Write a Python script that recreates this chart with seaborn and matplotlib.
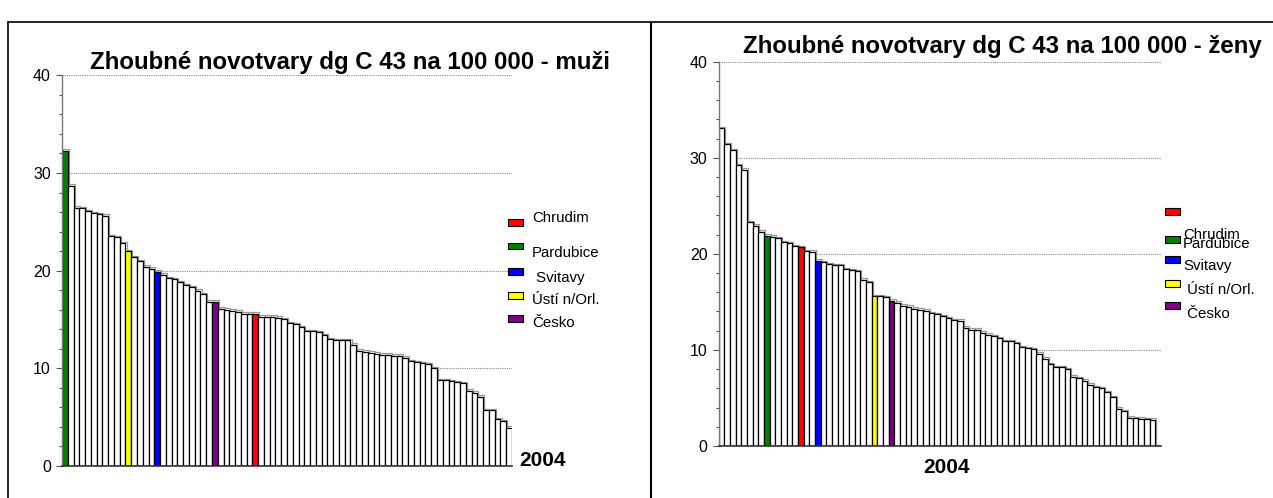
import numpy as np
import pandas as pd
import matplotlib
matplotlib.use("Agg")
import matplotlib.pyplot as plt
from matplotlib.patches import Rectangle
from matplotlib.lines import Line2D
import seaborn as sns

# okresy serazene podle hodnoty, 2004 (na 100 000)
muzi = [32.3, 28.7, 26.45, 26.4, 26.1, 25.9, 25.8, 25.6, 23.5, 23.4,
        22.8, 22.0, 21.4, 20.95, 20.4, 20.2, 19.9, 19.6, 19.2, 19.1,
        18.8, 18.5, 18.3, 17.95, 17.6, 16.8, 16.8, 16.1, 16.0, 15.9,
        15.8, 15.6, 15.6, 15.6, 15.3, 15.3, 15.3, 15.2, 15.0, 14.6,
        14.5, 14.2, 13.8, 13.8, 13.7, 13.4, 13.0, 12.9, 12.9, 12.9,
        12.4, 11.8, 11.7, 11.6, 11.5, 11.4, 11.4, 11.3, 11.3, 11.1,
        10.7, 10.65, 10.5, 10.4, 10.0, 8.8, 8.8, 8.7, 8.6, 8.5,
        7.7, 7.5, 7.1, 5.7, 5.7, 4.8, 4.6, 3.9]
zeny = [33.05, 31.4, 30.8, 29.2, 28.75, 23.3, 22.95, 22.3, 21.9, 21.8,
        21.6, 21.2, 21.1, 20.8, 20.7, 20.3, 20.2, 19.3, 19.1, 18.9,
        18.8, 18.8, 18.4, 18.3, 18.2, 17.3, 17.05, 15.6, 15.6, 15.5,
        15.1, 14.9, 14.6, 14.5, 14.3, 14.2, 14.1, 13.8, 13.7, 13.5,
        13.3, 13.1, 13.05, 12.3, 12.1, 12.1, 11.8, 11.6, 11.4, 11.2,
        10.9, 10.9, 10.7, 10.3, 10.2, 10.1, 9.6, 9.1, 8.5, 8.2,
        8.2, 8.0, 7.2, 7.05, 6.8, 6.4, 6.1, 6.0, 5.6, 5.1,
        3.9, 3.6, 2.95, 2.9, 2.85, 2.8, 2.75, 0.0]

# zvyraznene okresy: poradi sloupce v grafu
okresy = ["Chrudim", "Pardubice", "Svitavy", "Ústí n/Orl.", "Česko"]
barvy = ["#ff0000", "#008000", "#0000ff", "#ffff00", "#800080"]
poradi_muzi = [33, 0, 16, 11, 26]
poradi_zeny = [14, 8, 17, 27, 30]

titul_muzi = "Zhoubné novotvary dg C 43 na 100 000 - muži"
titul_zeny = "Zhoubné novotvary dg C 43 na 100 000 - ženy"
rok = "2004"

W, H = 1273, 498

sns.set_style("white")
plt.rcParams["font.family"] = ["Liberation Sans", "DejaVu Sans"]

fig = plt.figure(figsize=(W / 100, H / 100), dpi=100)


def fx(px):
    return px / W


def fy(py):
    return 1 - py / H


def kresli(ax, hodnoty, poradi):
    n = len(hodnoty)
    df = pd.DataFrame({"okres": [f"o{i}" for i in range(n)], "hodnota": hodnoty})
    pal = {k: "white" for k in df["okres"]}
    for p, b in zip(poradi, barvy):
        pal[f"o{p}"] = b
    # sedy stin za sloupci
    ax.bar(np.arange(n) + 0.18, np.array(hodnoty) + 0.15, width=1.0,
           color="none", edgecolor="#9a9a9a", linewidth=0.9, zorder=1.5)
    sns.barplot(data=df, x="okres", y="hodnota", hue="okres", palette=pal,
                legend=False, width=1.0, errorbar=None, edgecolor="black",
                linewidth=0.9, ax=ax, zorder=2, saturation=1)
    ax.set_xlim(-0.5, n - 0.5)
    ax.set_ylim(0, 40)
    ax.set_yticks([0, 10, 20, 30, 40])
    ax.set_yticks(np.arange(0, 41, 2), minor=True)
    ax.tick_params(axis="y", which="major", length=4, width=0.8, color="#555555",
                   labelsize=11.5, labelcolor="black", pad=4, left=True)
    ax.tick_params(axis="y", which="minor", length=2.5, width=0.8, color="#555555", left=True)
    ax.set_xticks([])
    ax.set_xlabel("")
    ax.set_ylabel("")
    for v in [10, 20, 30, 40]:
        ax.axhline(v, color="#888888", linestyle=(0, (1, 1)), linewidth=0.8, zorder=0)
    for s in ["top", "right"]:
        ax.spines[s].set_visible(False)
    ax.spines["left"].set_color("#777777")
    ax.spines["left"].set_linewidth(1.0)
    ax.spines["bottom"].set_color("#333333")
    ax.spines["bottom"].set_linewidth(1.2)
    ax.patch.set_alpha(0)


ax1 = fig.add_axes([fx(62), fy(466), fx(512) - fx(62), fy(75.3) - fy(466)])
kresli(ax1, muzi, poradi_muzi)
ax2 = fig.add_axes([fx(718.7), fy(446), fx(1161) - fx(718.7), fy(61.7) - fy(446)])
kresli(ax2, zeny, poradi_zeny)

fig.text(fx(350), fy(63), titul_muzi, ha="center", va="center",
         fontsize=17.3, fontweight="bold", color="black")
fig.text(fx(1002), fy(47), titul_zeny, ha="center", va="center",
         fontsize=17.3, fontweight="bold", color="black")
fig.text(fx(542), fy(460), rok, ha="center", va="center", fontsize=15,
         fontweight="bold", color="black")
fig.text(fx(947), fy(467), rok, ha="center", va="center", fontsize=15,
         fontweight="bold", color="black")

# legendy (rucne, jako v originale)
leg_muzi = {"x": 508, "tx": 532,
            "py": [222, 246, 271, 295, 318],
            "ty": [218, 253, 278, 300, 323],
            "txt": ["Chrudim", "Pardubice", " Svitavy", "Ústí n/Orl.", "Česko"]}
leg_zeny = {"x": 1165, "tx": 1183,
            "py": [211, 239, 259, 283, 306],
            "ty": [235, 244, 266, 290, 314],
            "txt": ["Chrudim", "Pardubice", "Svitavy", " Ústí n/Orl.", " Česko"]}
for leg in [leg_muzi, leg_zeny]:
    for b, py, ty, t in zip(barvy, leg["py"], leg["ty"], leg["txt"]):
        fig.patches.append(Rectangle((fx(leg["x"]), fy(py + 3.5)), fx(15), 7 / H,
                                     facecolor=b, edgecolor="black", linewidth=0.8,
                                     transform=fig.transFigure, figure=fig))
        fig.text(fx(leg["tx"]), fy(ty), t, ha="left", va="center", fontsize=10.8,
                 color="black")

# ramecek
fig.add_artist(Line2D([fx(8), 1], [fy(22), fy(22)], color="black", linewidth=1.2))
fig.add_artist(Line2D([fx(8), fx(8)], [0, fy(22)], color="black", linewidth=1.2))
fig.add_artist(Line2D([fx(651), fx(651)], [0, fy(22)], color="black", linewidth=1.5))

fig.savefig("out.png", dpi=100)
